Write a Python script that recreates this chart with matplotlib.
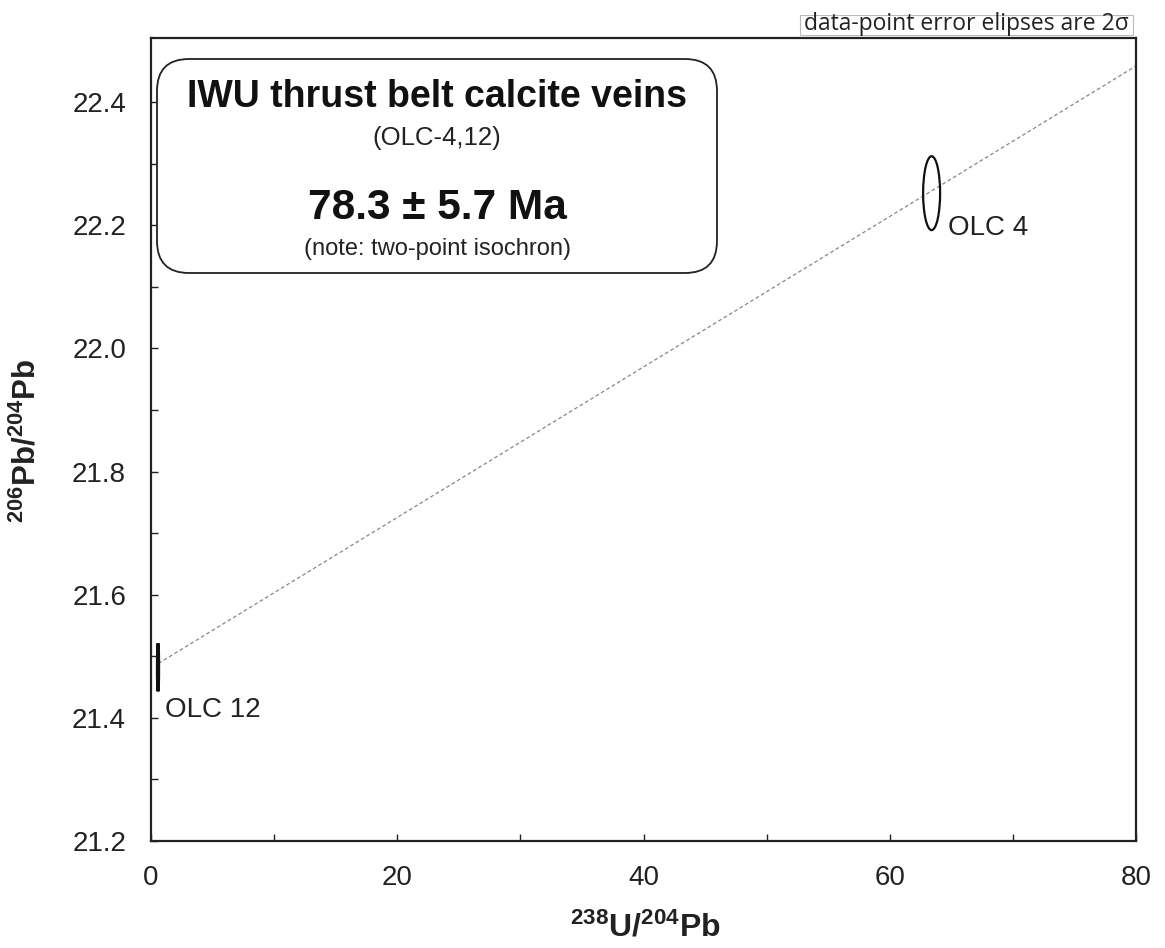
import matplotlib
matplotlib.use("Agg")
import matplotlib.pyplot as plt
from matplotlib.patches import Ellipse, FancyBboxPatch, Rectangle
import numpy as np

plt.rcParams['font.family'] = ['Liberation Sans', 'DejaVu Sans']
plt.rcParams['mathtext.fontset'] = 'custom'
plt.rcParams['mathtext.bf'] = 'Liberation Sans:bold'
plt.rcParams['mathtext.rm'] = 'Liberation Sans'

# data
samples = ["OLC 4", "OLC 12"]
x_vals = [63.4, 0.57]
y_vals = [22.252, 21.482]
x_err2s = [0.69, 0.05]      # half-widths (2 sigma)
y_err2s = [0.060, 0.039]    # half-heights (2 sigma)
iso_intercept = 21.481
iso_slope = 0.01222
iso_x = [0.6, 80]
xticks = [0, 20, 40, 60, 80]
yticks = [21.2, 21.4, 21.6, 21.8, 22.0, 22.2, 22.4]

W, H = 1165, 948
fig = plt.figure(figsize=(W / 100, H / 100), dpi=100)
ax = fig.add_axes([151 / W, 1 - 841 / H, (1136 - 151) / W, (841 - 38) / H])
ax.set_xlim(0, 80)
ax.set_ylim(21.2, 22.504)

# isochron
ix = np.array(iso_x)
ax.plot(ix, iso_intercept + iso_slope * ix, ls=(0, (3, 2)), color='#888888', lw=0.9, zorder=2)

# ellipses
lws = [1.6, 2.2]
for xv, yv, xe, ye, lw in zip(x_vals, y_vals, x_err2s, y_err2s, lws):
    ax.add_patch(Ellipse((xv, yv), 2 * xe, 2 * ye, fill=False, edgecolor='#111111', lw=lw, zorder=3))

ax.text(64.73, 22.195, samples[0], fontsize=20, va='center', ha='left', color='#222222')
ax.text(1.14, 21.413, samples[1], fontsize=20, va='center', ha='left', color='#222222')

# axes styling
for s in ax.spines.values():
    s.set_linewidth(1.6)
    s.set_color('#222222')
ax.set_xticks(xticks)
ax.set_yticks(yticks)
ax.set_xticklabels([str(v) for v in xticks])
ax.set_yticklabels([f"{v:.1f}" for v in yticks])
ax.set_xticks([10, 30, 50, 70], minor=True)
ax.set_yticks(np.arange(21.3, 22.5, 0.2), minor=True)
ax.tick_params(which='both', direction='in', length=5, width=1.0, colors='#222222',
               labelsize=20, labelcolor='#222222')
ax.tick_params(axis='x', pad=17)
ax.tick_params(axis='y', pad=18)

def fx(px): return px / W
def fy(py): return 1 - py / H

fig.text(fx(645), fy(928), r'$\mathbf{^{238}U/^{204}Pb}$', fontsize=23, color='#222222',
         ha='center', va='center')
fig.text(fx(27), fy(441), r'$\mathbf{^{206}Pb/^{204}Pb}$', fontsize=22.5, color='#222222',
         ha='center', va='center', rotation=90)

# info box (inches via dpi_scale_trans)
def ix_(px): return px / 100
def iy_(py): return (H - py) / 100
box = FancyBboxPatch((ix_(157), iy_(273)), ix_(717) - ix_(157), iy_(59) - iy_(273),
                     boxstyle="round,pad=0,rounding_size=0.32", transform=fig.dpi_scale_trans,
                     fill=True, facecolor='white', edgecolor='#222222', lw=1.3, zorder=5)
fig.patches.append(box)
cx = fx(437)
fig.text(cx, fy(97), "IWU thrust belt calcite veins", fontsize=27, fontweight='bold',
         ha='center', va='center', color='#111111', zorder=6)
fig.text(cx, fy(138), "(OLC-4,12)", fontsize=18.5, ha='center', va='center', color='#222222', zorder=6)
fig.text(cx, fy(208), "78.3 ± 5.7 Ma", fontsize=30.5, fontweight='bold',
         ha='center', va='center', color='#111111', zorder=6)
fig.text(cx, fy(249), "(note: two-point isochron)", fontsize=17, ha='center', va='center',
         color='#222222', zorder=6)

# note at top right
note_box = Rectangle((ix_(800), iy_(35)), ix_(1133) - ix_(800), iy_(15) - iy_(35),
                     transform=fig.dpi_scale_trans, facecolor='white', edgecolor='#bbbbbb', lw=0.8)
fig.patches.append(note_box)
fig.text(fx(966), fy(24), "data-point error elipses are 2σ", fontsize=16.5, ha='center', va='center',
         family=['Open Sans', 'DejaVu Sans'], color='#222222')

fig.savefig("out.png", dpi=100)
